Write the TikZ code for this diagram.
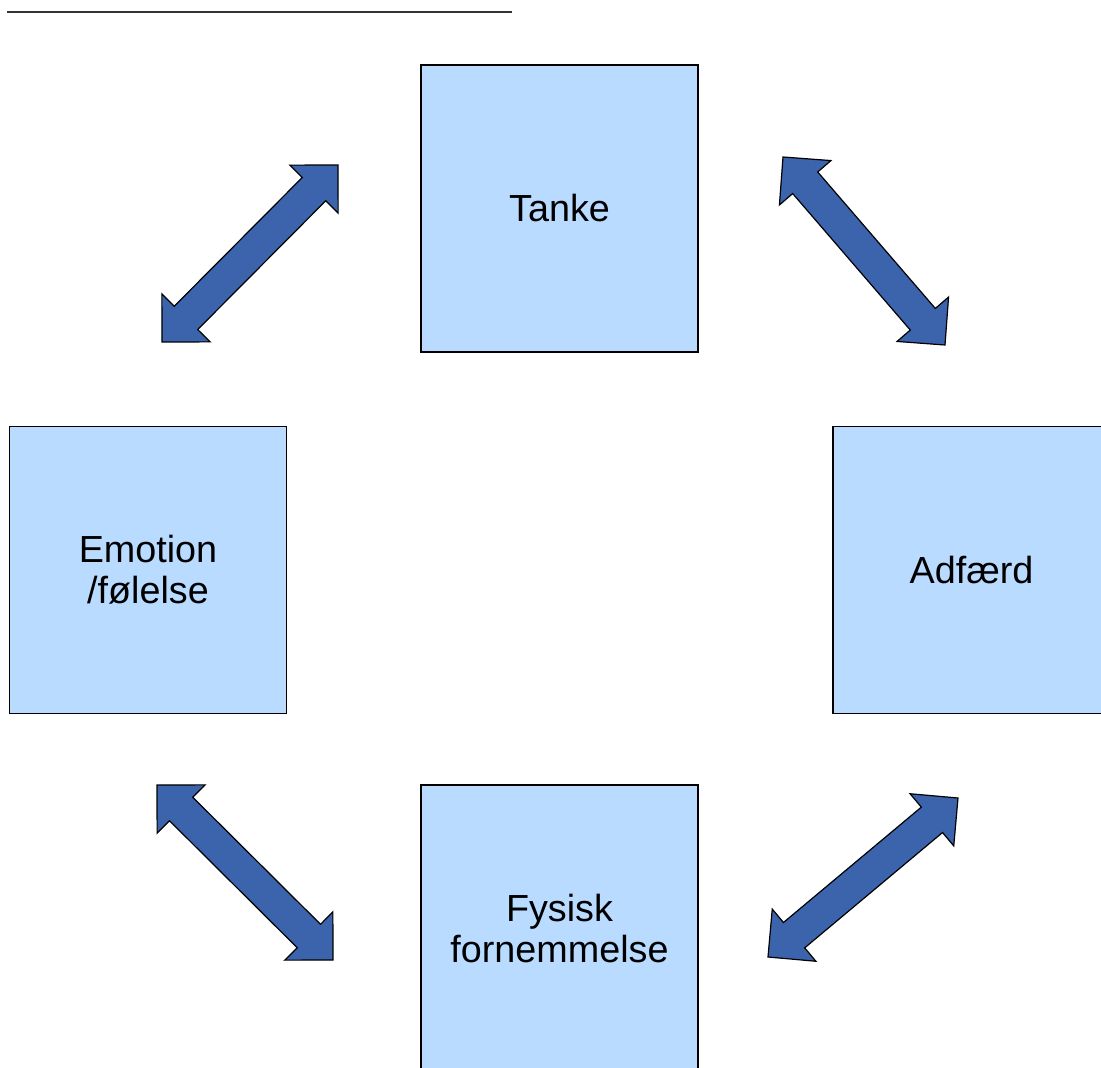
\documentclass[tikz,border=0pt]{standalone}
\usepackage{fontspec}
\setmainfont{Liberation Sans}
\usetikzlibrary{calc}
\definecolor{boxfill}{RGB}{185,219,255}
\definecolor{arrowfill}{RGB}{59,100,173}
\tikzset{
  box/.style={draw=black, line width=0.9pt, fill=boxfill, minimum width=207.75pt, minimum height=215.25pt, inner sep=0pt, align=center, font=\fontsize{28.3pt}{31pt}\selectfont},
  blockarrow/.style={draw=black, line width=0.9pt, fill=arrowfill, line join=miter}
}
\newcommand\dblblockarrow[2]{%
  \path[blockarrow]
    (#1)
    -- ($($(#1)!25.5pt!(#2)$)!25.5pt!90:(#2)$)
    -- ($($(#1)!25.5pt!(#2)$)!12.4pt!90:(#2)$)
    -- ($($(#2)!25.5pt!(#1)$)!12.4pt!-90:(#1)$)
    -- ($($(#2)!25.5pt!(#1)$)!25.5pt!-90:(#1)$)
    -- (#2)
    -- ($($(#2)!25.5pt!(#1)$)!25.5pt!90:(#1)$)
    -- ($($(#2)!25.5pt!(#1)$)!12.4pt!90:(#1)$)
    -- ($($(#1)!25.5pt!(#2)$)!12.4pt!-90:(#2)$)
    -- ($($(#1)!25.5pt!(#2)$)!25.5pt!-90:(#2)$)
    -- cycle;}
\begin{document}
\begin{tikzpicture}[x=0.75pt,y=-0.75pt]
\useasboundingbox (0,0) rectangle (1101,1068);
\begin{scope}
\clip (0,0) rectangle (1101,1068);
% top rule
\coordinate (ruleL) at (7,12);
\coordinate (ruleR) at (512,12);
\draw[line width=1.5pt, draw=black!80] (ruleL) -- (ruleR);
% boxes
\node[box] (tanke) at (559.5,208.5) {Tanke};
\node[box] (emotion) at (148,570) {Emotion\\/følelse};
\node[box] (adfaerd) at (971.5,570) {Adfærd};
\node[box] (fysisk) at (559.5,928.5) {Fysisk\\fornemmelse};
% arrow end points
\coordinate (a1s) at (162,342);
\coordinate (a1e) at (338,165);
\coordinate (a2s) at (783,157);
\coordinate (a2e) at (945,345);
\coordinate (a3s) at (157,785);
\coordinate (a3e) at (333,960);
\coordinate (a4s) at (768,957);
\coordinate (a4e) at (958,798);
\dblblockarrow{a1s}{a1e}
\dblblockarrow{a2s}{a2e}
\dblblockarrow{a3s}{a3e}
\dblblockarrow{a4s}{a4e}
\end{scope}
\end{tikzpicture}
\end{document}
